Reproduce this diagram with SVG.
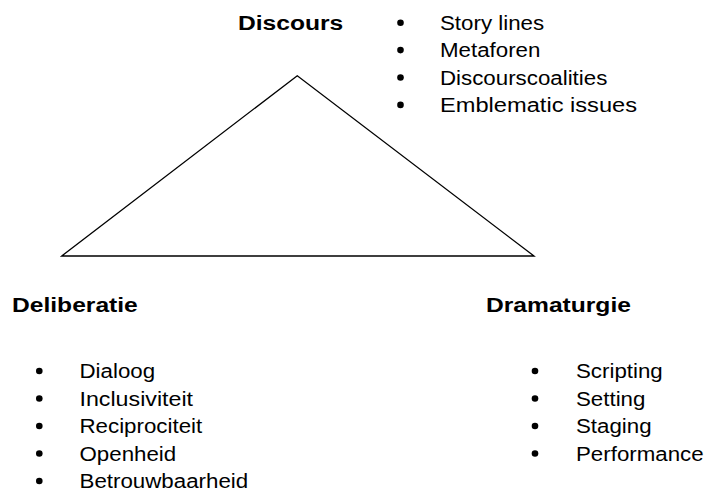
<svg xmlns="http://www.w3.org/2000/svg" width="706" height="494" viewBox="0 0 706 494">
<style>
text{font-family:"Liberation Sans",Arial,sans-serif;fill:#000;}
.h{font-size:20px;font-weight:bold;}
.t{font-size:20px;}
.edge{fill:none;stroke:#000;stroke-width:1.3;stroke-linejoin:miter;}
.b{fill:#000;}
</style>
<rect width="706" height="494" fill="#fff"/>
<g id="connectors">
<polygon class="edge" points="297.3,75.7 61.7,256 534,256"/>
</g>
<g id="discours">
<text class="h" x="238" y="29.5" textLength="105.3" lengthAdjust="spacingAndGlyphs">Discours</text>
<circle class="b" cx="400.5" cy="22.7" r="3.3"/>
<circle class="b" cx="400.5" cy="50.1" r="3.3"/>
<circle class="b" cx="400.5" cy="77.5" r="3.3"/>
<circle class="b" cx="400.5" cy="104.9" r="3.3"/>
<text class="t" x="440" y="30" textLength="104.1" lengthAdjust="spacingAndGlyphs">Story lines</text>
<text class="t" x="440" y="57.4" textLength="100.4" lengthAdjust="spacingAndGlyphs">Metaforen</text>
<text class="t" x="440" y="84.8" textLength="167.3" lengthAdjust="spacingAndGlyphs">Discourscoalities</text>
<text class="t" x="440" y="112.2" textLength="197" lengthAdjust="spacingAndGlyphs">Emblematic issues</text>
</g>
<g id="deliberatie">
<text class="h" x="12" y="311.5" textLength="125.8" lengthAdjust="spacingAndGlyphs">Deliberatie</text>
<circle class="b" cx="39.3" cy="371" r="3.3"/>
<circle class="b" cx="39.3" cy="398.5" r="3.3"/>
<circle class="b" cx="39.3" cy="426" r="3.3"/>
<circle class="b" cx="39.3" cy="453.5" r="3.3"/>
<circle class="b" cx="39.3" cy="481" r="3.3"/>
<text class="t" x="79.5" y="378" textLength="75.6" lengthAdjust="spacingAndGlyphs">Dialoog</text>
<text class="t" x="79.5" y="405.5" textLength="113.5" lengthAdjust="spacingAndGlyphs">Inclusiviteit</text>
<text class="t" x="79.5" y="433" textLength="122.7" lengthAdjust="spacingAndGlyphs">Reciprociteit</text>
<text class="t" x="79.5" y="460.5" textLength="96.7" lengthAdjust="spacingAndGlyphs">Openheid</text>
<text class="t" x="79.5" y="488" textLength="168.7" lengthAdjust="spacingAndGlyphs">Betrouwbaarheid</text>
</g>
<g id="dramaturgie">
<text class="h" x="486" y="311.5" textLength="144.9" lengthAdjust="spacingAndGlyphs">Dramaturgie</text>
<circle class="b" cx="535" cy="371" r="3.3"/>
<circle class="b" cx="535" cy="398.5" r="3.3"/>
<circle class="b" cx="535" cy="426" r="3.3"/>
<circle class="b" cx="535" cy="453.5" r="3.3"/>
<text class="t" x="576" y="378" textLength="86.7" lengthAdjust="spacingAndGlyphs">Scripting</text>
<text class="t" x="576" y="405.5" textLength="69.4" lengthAdjust="spacingAndGlyphs">Setting</text>
<text class="t" x="576" y="433" textLength="75.6" lengthAdjust="spacingAndGlyphs">Staging</text>
<text class="t" x="576" y="460.5" textLength="127.6" lengthAdjust="spacingAndGlyphs">Performance</text>
</g>
</svg>
